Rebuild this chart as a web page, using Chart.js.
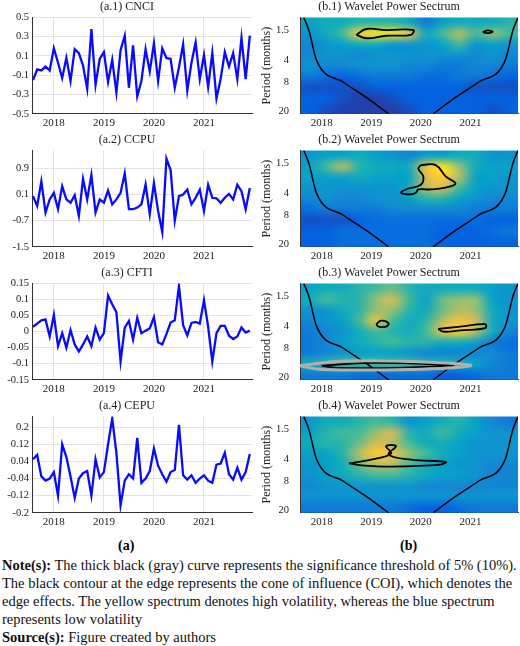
<!DOCTYPE html>
<html lang="en">
<head>
<meta charset="UTF-8">
<title>Series and wavelet power spectra</title>
<script src="https://cdn.jsdelivr.net/npm/chart.js"></script>
<style>
  body { margin: 0; width: 520px; height: 646px; background: #fff; font-family: "Liberation Serif", "Times New Roman", "DejaVu Serif", serif; position: relative; overflow: hidden; }
  .panel { position: absolute; width: 260px; height: 133px; }
  .lab { position: absolute; top: 538px; font-weight: bold; font-size: 14px; }
  .note { position: absolute; left: 2px; top: 556px; width: 516px; font-size: 14.5px; line-height: 18px; color: #111; }
</style>
</head>
<body>
<div id="panels"></div>
<div class="lab" style="left:118px">(a)</div>
<div class="lab" style="left:400px">(b)</div>
<div class="note"><b>Note(s):</b> The thick black (gray) curve represents the significance threshold of 5% (10%). The black contour at the edge represents the cone of influence (COI), which denotes the edge effects. The yellow spectrum denotes high volatility, whereas the blue spectrum represents low volatility<br><b>Source(s):</b> Figure created by authors</div>
<script>
// monthly series, Aug 2017 .. Dec 2021
const startYear = 2017 + 7 / 12;
const cnci = [-0.15,-0.04,-0.05,-0.01,-0.05, 0.18,0.03,-0.13,0.08,-0.16,0.17,0.13,0.0,-0.24,0.38,-0.2,0.07,
  0.14,-0.17,0.06,-0.28,0.16,0.31,-0.23,0.21,-0.32,-0.16,0.17,-0.06,
  0.23,-0.16,0.18,0.08,0.07,-0.23,-0.02,0.22,-0.26,0.03,0.24,-0.14,
  0.11,-0.22,0.13,-0.34,-0.14,0.14,-0.01,0.13,-0.14,0.29,-0.14,0.31];
const ccpu = [0.05,-0.25,0.5,-0.45,-0.05, 0.15,-0.35,0.35,-0.05,-0.15,0.08,-0.55,0.58,-0.05,0.7,-0.45,-0.05,
  -0.15,0.22,-0.2,-0.05,0.15,0.75,-0.35,-0.35,-0.3,-0.2,0.4,-0.5,
  0.45,-0.4,-1.05,1.2,0.85,-0.7,0.05,0.1,0.25,-0.2,0.0,0.25,
  -0.4,0.4,0.0,-0.02,-0.15,0.0,0.12,-0.05,0.4,0.2,-0.35,0.3];
const cfti = [0.015,0.025,0.035,0.038,-0.015, 0.052,-0.045,-0.005,-0.05,0.005,-0.04,-0.062,-0.04,-0.015,-0.045,0.012,-0.025,
  -0.005,0.112,0.085,0.06,-0.093,0.012,0.033,-0.025,0.043,-0.005,0.003,0.01,
  0.045,-0.033,-0.04,-0.008,0.028,0.035,0.142,0.02,-0.012,0.027,0.03,0.025,
  0.098,0.015,-0.093,-0.005,0.018,0.018,-0.013,-0.023,-0.015,0.013,-0.003,0.003];
const cepu = [0.05,0.07,-0.03,-0.05,-0.04, -0.01,-0.12,0.12,0.06,-0.03,-0.13,-0.04,-0.015,-0.005,-0.12,0.05,-0.035,
  -0.01,0.12,0.24,0.08,-0.165,-0.05,-0.02,-0.04,0.15,-0.06,-0.04,-0.005,
  0.1,0.02,-0.02,-0.055,-0.01,0.0,0.21,-0.025,-0.045,-0.025,-0.06,-0.04,
  -0.025,-0.05,-0.06,0.025,0.03,0.08,-0.02,-0.045,0.01,-0.045,-0.01,0.075];

const yearTicks = [2018, 2019, 2020, 2021];
const periodTicks = [1.5, 4, 8, 20];
const ticksA1 = [-0.5,-0.3,-0.1,0.1,0.3,0.5];
const ticksA2 = [-1.5,-1.1,-0.7,-0.3,0.1,0.5,0.9,1.3];
const ticksA3 = [-0.15,-0.1,-0.05,0,0.05,0.1,0.15];
const ticksA4 = [-0.2,-0.12,-0.04,0.04,0.12,0.2];

// wavelet power grid: 9 period rows (1 .. 22, log spaced) x 13 time columns
const gridT0 = 2017.58, gridT1 = 2021.95, gridP0 = 1, gridP1 = 22;
const power1 = [
  [.45,.5,.5,.55,.55,.55,.5,.3,.45,.5,.5,.5,.55],
  [.4,.5,.6,.9,.95,.95,.85,.5,.6,.75,.6,.7,.6],
  [.35,.4,.45,.5,.5,.4,.4,.4,.45,.6,.4,.45,.4],
  [.35,.4,.4,.35,.4,.4,.4,.4,.4,.4,.35,.4,.35],
  [.4,.35,.35,.4,.4,.4,.35,.35,.3,.3,.35,.35,.3],
  [.3,.25,.2,.25,.3,.3,.3,.25,.25,.3,.3,.25,.2],
  [.15,.15,.15,.15,.2,.2,.2,.2,.2,.2,.15,.15,.15],
  [.2,.2,.15,.1,.1,.15,.2,.2,.2,.2,.2,.2,.2],
  [.2,.15,.1,.1,.1,.1,.15,.2,.2,.2,.2,.15,.2]];
const power2 = [
  [.4,.45,.45,.5,.45,.4,.35,.45,.45,.5,.5,.4,.4],
  [.45,.6,.75,.55,.5,.5,.5,.85,.95,.7,.5,.45,.45],
  [.45,.45,.45,.5,.45,.45,.45,.8,.9,.75,.45,.45,.4],
  [.4,.4,.4,.4,.4,.4,.5,.75,.8,.6,.45,.4,.4],
  [.35,.4,.35,.35,.4,.4,.45,.55,.55,.45,.4,.35,.35],
  [.25,.3,.3,.3,.3,.35,.35,.35,.35,.35,.3,.3,.3],
  [.15,.15,.15,.2,.25,.25,.25,.25,.25,.25,.25,.2,.2],
  [.2,.2,.25,.25,.25,.25,.25,.25,.2,.2,.2,.25,.3],
  [.2,.2,.25,.25,.25,.25,.25,.25,.2,.2,.2,.2,.2]];
const power3 = [
  [.45,.5,.5,.55,.6,.65,.55,.5,.5,.5,.5,.45,.4],
  [.5,.6,.55,.55,.7,.8,.6,.45,.65,.7,.7,.45,.4],
  [.4,.4,.5,.55,.7,.7,.55,.5,.65,.75,.7,.5,.4],
  [.35,.4,.45,.6,.85,.6,.5,.55,.75,.85,.8,.5,.4],
  [.3,.35,.4,.5,.6,.55,.5,.6,.85,.9,.75,.5,.35],
  [.3,.35,.45,.5,.55,.6,.55,.55,.5,.5,.45,.3,.25],
  [.3,.35,.4,.45,.45,.45,.4,.35,.35,.35,.35,.35,.3],
  [.5,.55,.6,.6,.6,.6,.6,.55,.55,.5,.45,.35,.3],
  [.3,.3,.3,.25,.25,.25,.25,.25,.2,.2,.25,.3,.3]];
const power4 = [
  [.4,.5,.5,.55,.6,.55,.4,.45,.5,.55,.45,.35,.3],
  [.45,.55,.6,.6,.7,.8,.55,.5,.6,.5,.45,.4,.4],
  [.5,.55,.55,.65,.8,.75,.6,.5,.5,.45,.4,.4,.4],
  [.45,.45,.55,.75,.9,.85,.7,.6,.5,.45,.4,.4,.4],
  [.4,.45,.5,.65,.75,.75,.6,.5,.45,.4,.4,.35,.35],
  [.4,.45,.5,.55,.6,.6,.55,.5,.45,.45,.4,.35,.35],
  [.35,.4,.4,.4,.4,.4,.4,.35,.35,.35,.35,.35,.35],
  [.4,.4,.4,.4,.4,.4,.4,.4,.4,.4,.4,.4,.4],
  [.3,.3,.3,.3,.3,.3,.25,.2,.2,.25,.3,.3,.3]];

// cone of influence (year, period), sorted by year
const coiLeft = [[2017.64,1],[2017.74,1.5],[2017.9,4],[2018.44,8],[2018.9,13],[2019.35,22]];
const coiRight = [[2020.25,22],[2020.7,13],[2021.16,8],[2021.7,4],[2021.86,1.5],[2021.96,1]];

// significance contours (year, period)
const sig1 = [
  [[2018.7,1.75],[2018.9,1.45],[2019.3,1.5],[2019.85,1.5],[2019.8,1.75],[2019.3,1.8],[2018.9,1.95],[2018.7,1.75]],
  [[2021.25,1.6],[2021.35,1.52],[2021.45,1.58],[2021.35,1.66],[2021.25,1.6]]];
const sig2 = [
  [[2020.0,1.6],[2020.3,1.6],[2020.5,2.3],[2020.7,2.9],[2020.5,3.3],[2020.2,3.5],[2019.95,3.5],[2019.9,3.9],[2019.8,4.1],[2019.6,3.9],[2019.7,3.5],[2020.0,3.0],[2020.05,2.3],[2019.95,1.8],[2020.0,1.6]]];
const sig3 = [
  [[2019.1,3.7],[2019.2,3.3],[2019.35,3.6],[2019.3,4.0],[2019.15,4.0],[2019.1,3.7]],
  [[2020.35,4.3],[2020.8,4.0],[2021.3,3.7],[2021.3,4.2],[2020.8,4.5],[2020.45,4.7],[2020.35,4.3]],
  [[2018.0,14],[2019.0,12.8],[2020.5,13.5],[2020.6,14],[2019.5,15],[2018.3,15],[2018.0,14]]];
const sig3gray = [
  [[2017.55,14],[2018.5,12],[2020.5,12.8],[2021.0,14],[2019.8,15.8],[2018,15.8],[2017.55,14]]];
const sig4 = [
  [[2018.55,4.5],[2019.0,4.0],[2019.4,3.3],[2019.3,2.6],[2019.5,2.6],[2019.35,3.4],[2019.8,4.0],[2020.5,4.3],[2020.4,4.7],[2019.4,5.0],[2018.8,4.8],[2018.55,4.5]]];

const parula = ['#352a87','#0363e1','#1485d4','#06a7c6','#38b99e','#92bf73','#d9ba56','#fcce2e','#f9fb0e'];
function heatColor(v) {
  const t = Math.pow(Math.max(0, Math.min(1, v)), 1.3) * (parula.length - 1);
  const i = Math.min(parula.length - 2, Math.floor(t)), f = t - i;
  const a = parula[i], b = parula[i + 1];
  const c = k => Math.round(parseInt(a.substr(k, 2), 16) * (1 - f) + parseInt(b.substr(k, 2), 16) * f);
  return `rgb(${c(1)},${c(3)},${c(5)})`;
}

// draws the power grid as a smoothed image under the datasets
const heatPlugin = {
  id: 'heat',
  beforeDatasetsDraw(chart) {
    const grid = chart.options.plugins.heat.grid;
    if (!grid) return;
    const rows = grid.length, cols = grid[0].length;
    const off = document.createElement('canvas');
    off.width = cols; off.height = rows;
    const octx = off.getContext('2d');
    grid.forEach((row, r) => row.forEach((v, c) => {
      octx.fillStyle = heatColor(v);
      octx.fillRect(c, r, 1, 1);
    }));
    const { x, y } = chart.scales;
    const ctx = chart.ctx, area = chart.chartArea;
    ctx.save();
    ctx.beginPath();
    ctx.rect(area.left, area.top, area.width, area.height);
    ctx.clip();
    ctx.imageSmoothingEnabled = true;
    ctx.imageSmoothingQuality = 'high';
    const x0 = x.getPixelForValue(gridT0), x1 = x.getPixelForValue(gridT1);
    const y0 = y.getPixelForValue(gridP0), y1 = y.getPixelForValue(gridP1);
    ctx.drawImage(off, x0, y0, x1 - x0, y1 - y0);
    ctx.restore();
  }
};

const serif = '"Liberation Serif", "Times New Roman", "DejaVu Serif", serif';
const fmt = v => String(+v.toFixed(2));

function xAxis(grid) {
  return {
    type: 'linear', min: startYear - 0.02, max: 2021.96,
    afterBuildTicks: ax => { ax.ticks = yearTicks.map(v => ({ value: v })); },
    ticks: { font: { family: serif, size: 11 }, color: '#222', callback: v => String(v), maxRotation: 0 },
    grid: { display: grid, color: '#e3e3e3', drawTicks: false },
    border: { color: '#333' }
  };
}

function seriesChart(canvas, title, values, ticks, min, max) {
  new Chart(canvas, {
    type: 'line',
    data: { datasets: [{ data: values.map((v, i) => ({ x: startYear + i / 12, y: v })), borderColor: '#0a0aff', borderWidth: 2.3, pointRadius: 0, tension: 0 }] },
    options: {
      animation: false, responsive: false,
      layout: { padding: { right: 8, left: 2 } },
      plugins: { legend: { display: false }, tooltip: { enabled: false },
        title: { display: true, text: title, font: { family: serif, size: 12, weight: 'normal' }, color: '#222', padding: { top: 0, bottom: 3 } } },
      scales: {
        x: xAxis(true),
        y: { min, max,
          afterBuildTicks: ax => { ax.ticks = ticks.map(v => ({ value: v })); },
          afterFit: ax => { ax.width = 30; },
          ticks: { font: { family: serif, size: 10.5 }, color: '#222', callback: fmt },
          grid: { color: '#e3e3e3', drawTicks: false }, border: { color: '#333' } }
      }
    }
  });
}

function contourSets(list, color, width) {
  return list.map(pts => ({ data: pts.map(p => ({ x: p[0], y: p[1] })), showLine: true, borderColor: color, borderWidth: width, pointRadius: 0, tension: 0.4 }));
}

function waveletChart(canvas, title, grid, sig, sigGray) {
  const coi = [coiLeft, coiRight].map(pts => ({ data: pts.map(p => ({ x: p[0], y: p[1] })), showLine: true, borderColor: '#000', borderWidth: 1.5, pointRadius: 0, cubicInterpolationMode: 'monotone' }));
  new Chart(canvas, {
    type: 'scatter',
    data: { datasets: [...contourSets(sigGray || [], '#b0b0b0', 3), ...contourSets(sig, '#000', 1.8), ...coi] },
    options: {
      animation: false, responsive: false,
      layout: { padding: { right: 2 } },
      plugins: { legend: { display: false }, tooltip: { enabled: false }, heat: { grid },
        title: { display: true, text: title, font: { family: serif, size: 12, weight: 'normal' }, color: '#222', padding: { top: 0, bottom: 3 } } },
      scales: {
        x: xAxis(false),
        y: { type: 'logarithmic', min: gridP0, max: gridP1, reverse: true,
          afterBuildTicks: ax => { ax.ticks = periodTicks.map(v => ({ value: v })); },
          afterFit: ax => { ax.width = 40; },
          title: { display: true, text: 'Period (months)', font: { family: serif, size: 12 }, color: '#222', padding: 0 },
          ticks: { font: { family: serif, size: 10.5 }, color: '#222', callback: v => String(v) },
          grid: { display: false }, border: { color: '#333' } }
      }
    },
    plugins: [heatPlugin]
  });
}

const rowsA = [
  ['(a.1) CNCI', cnci, ticksA1, -0.5, 0.5],
  ['(a.2) CCPU', ccpu, ticksA2, -1.5, 1.45],
  ['(a.3) CFTI', cfti, ticksA3, -0.15, 0.15],
  ['(a.4) CEPU', cepu, ticksA4, -0.2, 0.25]
];
const rowsB = [
  ['(b.1) Wavelet Power Sectrum', power1, sig1],
  ['(b.2) Wavelet Power Sectrum', power2, sig2],
  ['(b.3) Wavelet Power Sectrum', power3, sig3, sig3gray],
  ['(b.4) Wavelet Power Sectrum', power4, sig4]
];

const holder = document.getElementById('panels');
function makeCanvas(left, top) {
  const div = document.createElement('div');
  div.className = 'panel';
  div.style.left = left + 'px';
  div.style.top = top + 'px';
  const c = document.createElement('canvas');
  c.width = 260; c.height = 133;
  div.appendChild(c);
  holder.appendChild(div);
  return c;
}
rowsA.forEach((r, i) => seriesChart(makeCanvas(0, i * 133), ...r));
rowsB.forEach((r, i) => waveletChart(makeCanvas(260, i * 133), ...r));
</script>
</body>
</html>
